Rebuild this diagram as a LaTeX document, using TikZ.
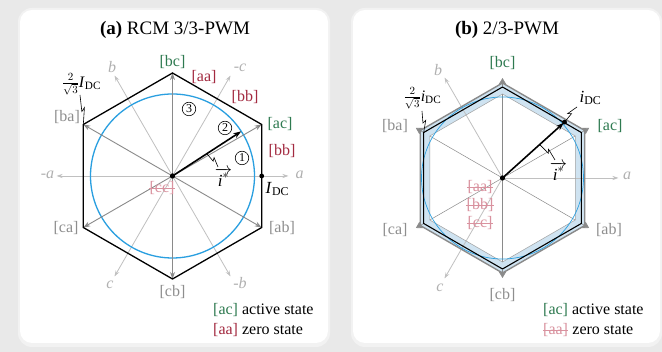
\documentclass[tikz,border=0pt]{standalone}
\usepackage{fontspec}
\setmainfont{Liberation Serif}
\usetikzlibrary{calc,arrows.meta}
\definecolor{cbg}{HTML}{E9E9E9}
\definecolor{cgreen}{HTML}{2E7A50}
\definecolor{cred}{HTML}{A32A40}
\definecolor{cgray}{HTML}{8E8E8E}
\definecolor{cpink}{HTML}{D9929F}
\definecolor{caxis}{HTML}{C0C0C0}
\definecolor{caxlab}{HTML}{B0B0B0}
\definecolor{cspoke}{HTML}{8A8A8A}
\definecolor{cblue}{HTML}{2A9FE0}
\definecolor{cband}{HTML}{CFE3F1}
\newcommand\lightning[2]{\draw[squig] (#1) -- ($(#1)!0.56!(#2)$) -- ($(#1)!0.44!(#2)!3pt!90:(#2)$) -- (#2);}
\newcommand\strikeit[1]{\draw[cpink, line width=0.8pt] ([yshift=4.3pt]#1.base west) -- ([yshift=4.3pt]#1.base east);}
\begin{document}
\begin{tikzpicture}[x=1pt,y=1pt,
  lab/.style={font=\fontsize{16}{18}\selectfont, inner sep=0pt},
  gl/.style={lab, text=cgray},
  gr/.style={lab, text=cgreen},
  rdl/.style={lab, text=cred},
  pk/.style={lab, text=cpink},
  alab/.style={inner sep=0pt, font=\fontsize{16}{18}\selectfont\itshape, text=caxlab},
  titl/.style={inner sep=0pt, font=\fontsize{19}{21}\selectfont},
  leg/.style={lab, anchor=west},
  axln/.style={draw=caxis, line width=0.8pt, -{Stealth[length=6pt,width=4pt]}},
  spoke/.style={draw=cspoke, line width=0.9pt, -{Stealth[length=7pt,width=5pt]}},
  thinspoke/.style={draw=cspoke, line width=0.5pt},
  boldarr/.style={line width=1.6pt, -{Stealth[length=8pt,width=5.5pt]}},
  squig/.style={line width=0.6pt},
  hexln/.style={line width=1.3pt, line join=miter},
  cnum/.style={circle, draw, line width=0.6pt, inner sep=0pt, minimum size=13.5pt, font=\fontsize{12}{12}\selectfont},
  vtip/.style={draw=cspoke, line width=0.6pt, -{Triangle[length=6pt,width=7pt]}}
]
\useasboundingbox (0,0) rectangle (662,352);
\fill[cbg] (0,0) rectangle (662,352);
\fill[black!5, rounded corners=14pt] (18,5) rectangle (330,344);
\fill[white, rounded corners=12pt] (20,9) rectangle (328,342);
\fill[black!5, rounded corners=14pt] (351,5) rectangle (662,344);
\fill[white, rounded corners=12pt] (353,9) rectangle (660,342);

\node[titl] (ta) at (175,322) {\textbf{(a)} RCM 3/3-PWM};
\node[titl] (tb) at (507,322) {\textbf{(b)} 2/3-PWM};

% ---------------- panel a ----------------
\begin{scope}[shift={(172.5,176)}]
  \coordinate (Oa) at (0,0);
  \foreach \t/\n in {30/ac,90/bc,150/ba,210/ca,270/cb,330/ab} {\coordinate (a\n) at (\t:103);}
  \foreach \t/\n in {0/ap,180/am,120/bp,300/bm,240/cp,60/cm} {\coordinate (ax\n) at (\t:116);}
  \foreach \n in {ap,am,bp,bm,cp,cm} {\draw[axln] (Oa) -- (ax\n);}
  \draw[cblue, line width=1.3pt] (Oa) circle (82);
  \foreach \n in {ac,bc,ba,ca,cb,ab} {\draw[spoke] (Oa) -- (a\n);}
  \draw[hexln] (aac) -- (abc) -- (aba) -- (aca) -- (acb) -- (aab) -- cycle;
  \coordinate (ia) at (33:82);
  \draw[boldarr] (Oa) -- (ia);
  \fill (Oa) circle (2.6);
  \coordinate (ida) at (89.2,0);
  \fill (ida) circle (2.4);
  % axis labels
  \node[alab] (la) at (127,1) {a};
  \node[alab] (lma) at (-125,1) {-a};
  \node[alab] (lb) at (-60.5,109) {b};
  \node[alab] (lmb) at (67.5,-107) {-b};
  \node[alab] (lc) at (-62.5,-109) {c};
  \node[alab] (lmc) at (67.5,108) {-c};
  % state labels
  \node[gr] (tbc) at (0,114) {[bc]};
  \node[rdl] (taa) at (31.5,99) {[aa]};
  \node[rdl] (tbb1) at (72.5,79) {[bb]};
  \node[gr] (tac) at (107.5,52) {[ac]};
  \node[rdl] (tbb2) at (109.5,25) {[bb]};
  \node[gl] (tba) at (-105.5,59) {[ba]};
  \node[gl] (tca) at (-106.5,-52) {[ca]};
  \node[gl] (tab) at (109.5,-52) {[ab]};
  \node[gl] (tcb) at (0,-116) {[cb]};
  \node[pk] (tcc) at (-10.5,-12) {[cc]};
  \strikeit{tcc}
  % sector numbers
  \node[cnum] (n1) at (69.5,18) {1};
  \node[cnum] (n2) at (52.5,48) {2};
  \node[cnum] (n3) at (16.5,67) {3};
  % i* label
  \node[lab, font=\fontsize{17}{18}\selectfont] (istar) at (51,-1) {$\overrightarrow{\textit{i}^{*}}$};
  \coordinate (sqa1) at (33:41);
  \coordinate (sqa2) at (45.5,9);
  \lightning{sqa1}{sqa2}
  % I_DC
  \node[lab, anchor=north west, font=\fontsize{17}{18}\selectfont] (IDC) at (93,-6) {\textit{I}\textsubscript{DC}};
  % 2/sqrt3 I_DC
  \node[lab] (fra) at (-91,92) {$\frac{2}{\sqrt{3}}$\textit{I}\textsubscript{DC}};
  \coordinate (sqb1) at (-92.5,81);
  \lightning{sqb1}{aba}
\end{scope}
\node[leg] (lega1) at (213,42) {\textcolor{cgreen}{[ac]} active state};
\node[leg] (lega2) at (213,22) {\textcolor{cred}{[aa]} zero state};

% ---------------- panel b ----------------
\begin{scope}[shift={(502.5,174)}]
  \coordinate (Ob) at (0,0);
  \foreach \t/\n in {30/ac,90/bc,150/ba,210/ca,270/cb,330/ab} {
    \coordinate (o\n) at (\t:95);
    \coordinate (i\n) at (\t:84);
    \coordinate (k\n) at (\t:91);
    \coordinate (v\n) at (\t:92);
    \coordinate (w\n) at (\t:100);
  }
  \fill[cband, even odd rule] (oac) -- (obc) -- (oba) -- (oca) -- (ocb) -- (oab) -- cycle
        (iac) -- (ibc) -- (iba) -- (ica) -- (icb) -- (iab) -- cycle;
  \foreach \n in {ac,bc,ba,ca,cb,ab} {\draw[thinspoke] (Ob) -- (i\n);}
  \foreach \t/\n in {0/ap,120/bp,240/cp} {\coordinate (bx\n) at (\t:116);}
  \foreach \n in {ap,bp,cp} {\draw[axln] (Ob) -- (bx\n);}
  \draw[cspoke!80, line width=0.5pt] (iac) -- (ibc) -- (iba) -- (ica) -- (icb) -- (iab) -- cycle;
  \draw[cspoke, line width=1.4pt, line join=miter] (oac) -- (obc) -- (oba) -- (oca) -- (ocb) -- (oab) -- cycle;
  \foreach \n in {ac,bc,ba,ca,cb,ab} {\draw[vtip] (v\n) -- (w\n);}
  \draw[cblue, line width=0.7pt] (Ob) circle (81);
  \draw[line width=1.1pt, line join=miter] (kac) -- (kbc) -- (kba) -- (kca) -- (kcb) -- (kab) -- cycle;
  \coordinate (ib) at (42:83.5);
  \draw[boldarr, shorten >=1pt] (Ob) -- (ib);
  \fill (ib) circle (2.4);
  \fill (Ob) circle (2.6);
  % axis labels
  \node[alab] (lba) at (124.5,2) {a};
  \node[alab] (lbb) at (-64.5,108) {b};
  \node[alab] (lbc) at (-62.5,-110) {c};
  % state labels
  \node[gr] (ubc) at (0,115) {[bc]};
  \node[gr] (uac) at (107.5,52) {[ac]};
  \node[gl] (uba) at (-107.5,52) {[ba]};
  \node[gl] (uca) at (-107.5,-52) {[ca]};
  \node[gl] (uab) at (106.5,-52) {[ab]};
  \node[gl] (ucb) at (0,-117) {[cb]};
  \node[pk] (uaa) at (-22.5,-9) {[aa]};
  \node[pk] (ubb) at (-22.5,-27) {[bb]};
  \node[pk] (ucc) at (-22.5,-45) {[cc]};
  \strikeit{uaa}
  \strikeit{ubb}
  \strikeit{ucc}
  % i* label
  \node[lab, font=\fontsize{17}{18}\selectfont] (istb) at (56,7) {$\overrightarrow{\textit{i}^{*}}$};
  \coordinate (sqc1) at (42:50);
  \coordinate (sqc2) at (52.5,18);
  \lightning{sqc1}{sqc2}
  % i_DC
  \node[lab, font=\fontsize{17}{18}\selectfont] (idcb) at (88,80) {\textit{i}\textsubscript{DC}};
  \coordinate (sqd2) at (74.5,71);
  \lightning{ib}{sqd2}
  % 2/sqrt3 i_DC
  \node[lab] (frb) at (-80,80) {$\frac{2}{\sqrt{3}}$\textit{i}\textsubscript{DC}};
  \coordinate (sqe1) at (-80.5,67);
  \lightning{sqe1}{kba}
\end{scope}
\node[leg] (legb1) at (543,42) {\textcolor{cgreen}{[ac]} active state};
\node[pk, anchor=west] (legb2a) at (543,22) {[aa]};
\strikeit{legb2a}
\node[leg] (legb2) at (legb2a.east) {\ zero state};
\end{tikzpicture}
\end{document}
